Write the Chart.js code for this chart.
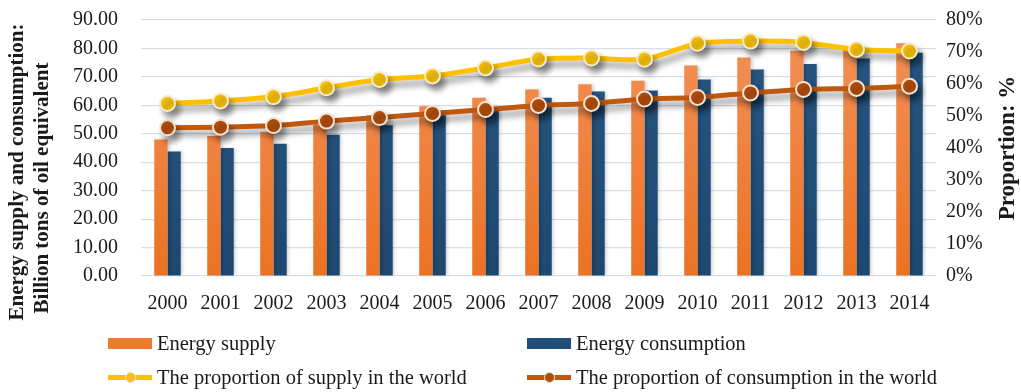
<!DOCTYPE html>
<html>
<head>
<meta charset="utf-8">
<script src="https://cdn.jsdelivr.net/npm/chart.js@4.4.1/dist/chart.umd.min.js"></script>
<style>
  html, body { margin: 0; padding: 0; background: #fff; }
  #wrap { position: relative; width: 1021px; height: 392px; overflow: hidden; }
  #energyChart { position: absolute; left: 0; top: 0; }
  .legend-item {
    position: absolute;
    display: flex;
    align-items: center;
    font-family: "Liberation Serif", "Times New Roman", serif;
    font-size: 20.5px;
    color: #1a1a1a;
    white-space: nowrap;
  }
  .swatch-box { width: 44px; height: 11px; margin-right: 5px; }
  .swatch-line { position: relative; width: 44px; height: 11px; margin-right: 5px; }
  .swatch-line .bar { position: absolute; left: 0; right: 0; top: 3px; height: 5px; }
  .swatch-line .dot { position: absolute; left: 17px; top: 0; width: 9px; height: 9px; border-radius: 50%; border: 1px solid #f3e6c8; }
</style>
</head>
<body>
<div id="wrap">
  <canvas id="energyChart" width="1021" height="392"></canvas>
  <div id="legend"></div>
</div>
<script>
const years = ["2000", "2001", "2002", "2003", "2004", "2005", "2006", "2007", "2008", "2009", "2010", "2011", "2012", "2013", "2014"];

// billion tons of oil equivalent
const energySupply = [48.0, 49.2, 50.6, 53.3, 56.5, 59.7, 62.7, 65.6, 67.4, 68.6, 74.0, 76.8, 79.2, 80.6, 81.8];
const energyConsumption = [43.8, 45.0, 46.5, 49.7, 53.0, 56.5, 59.0, 62.7, 64.9, 65.2, 69.1, 72.6, 74.5, 76.5, 78.5];

// share of world total, %
const supplyShare = [53.9, 54.7, 56.0, 58.8, 61.4, 62.5, 65.0, 67.8, 68.1, 67.7, 72.7, 73.4, 73.0, 70.8, 70.3];
const consumptionShare = [46.3, 46.5, 47.0, 48.4, 49.5, 50.8, 52.0, 53.3, 53.9, 55.3, 55.8, 57.2, 58.3, 58.6, 59.3];

const leftTicks = [0, 10, 20, 30, 40, 50, 60, 70, 80, 90];
const rightTicks = [0, 10, 20, 30, 40, 50, 60, 70, 80];

const FONT = "'Liberation Serif', 'Times New Roman', serif";
const colors = {
  supplyTop: "#F3925A",
  supplyBottom: "#EB7222",
  consTop: "#285682",
  consBottom: "#1D4870",
  supplyLine: "#FFC000",
  consLine: "#C0580F",
  consDot: "#B24E0D",
};

function verticalGradient(ctx, chartArea, top, bottom) {
  const g = ctx.createLinearGradient(0, chartArea.top, 0, chartArea.bottom);
  g.addColorStop(0, top);
  g.addColorStop(1, bottom);
  return g;
}

// soft drop shadow under the bars and the share lines
const shadowPlugin = {
  id: "shadow",
  beforeDatasetDraw(chart, args) {
    const ds = chart.data.datasets[args.index];
    const ctx = chart.ctx;
    ctx.save();
    if (ds.type === "line") {
      ctx.shadowColor = "rgba(0,0,0,0.4)";
      ctx.shadowBlur = 6;
      ctx.shadowOffsetX = 4;
      ctx.shadowOffsetY = 6;
    } else {
      ctx.shadowColor = "rgba(0,0,0,0.18)";
      ctx.shadowBlur = 3;
      ctx.shadowOffsetX = 2;
      ctx.shadowOffsetY = 0;
    }
  },
  afterDatasetDraw(chart) {
    chart.ctx.restore();
  },
};

// rotated axis titles
const axisTitles = {
  id: "axisTitles",
  afterDraw(chart) {
    const ctx = chart.ctx;
    ctx.save();
    ctx.fillStyle = "#1a1a1a";
    ctx.textAlign = "center";
    ctx.textBaseline = "middle";

    ctx.font = "bold 21px " + FONT;
    ctx.save();
    ctx.translate(18, 172);
    ctx.rotate(-Math.PI / 2);
    ctx.fillText("Energy supply and consumption:", 0, 0);
    ctx.restore();

    ctx.save();
    ctx.translate(43, 188);
    ctx.rotate(-Math.PI / 2);
    ctx.fillText("Billion tons of oil equivalent", 0, 0);
    ctx.restore();

    ctx.font = "bold 23px " + FONT;
    ctx.save();
    ctx.translate(1008, 148);
    ctx.rotate(-Math.PI / 2);
    ctx.fillText("Proportion: %", 0, 0);
    ctx.restore();

    ctx.restore();
  },
};

const chart = new Chart(document.getElementById("energyChart"), {
  data: {
    labels: years,
    datasets: [
      {
        type: "line",
        label: "The proportion of supply in the world",
        data: supplyShare,
        yAxisID: "y1",
        borderColor: colors.supplyLine,
        backgroundColor: colors.supplyLine,
        borderWidth: 5,
        tension: 0.25,
        pointRadius: 7.5,
        pointBorderWidth: 2,
        pointBackgroundColor: "#F7C10A",
        pointBorderColor: "#F6EBCB",
        order: 1,
      },
      {
        type: "line",
        label: "The proportion of consumption in the world",
        data: consumptionShare,
        yAxisID: "y1",
        borderColor: colors.consLine,
        backgroundColor: colors.consLine,
        borderWidth: 5,
        tension: 0.25,
        pointRadius: 7.5,
        pointBorderWidth: 2,
        pointBackgroundColor: colors.consDot,
        pointBorderColor: "#F3E3D2",
        order: 1,
      },
      {
        type: "bar",
        label: "Energy supply",
        data: energySupply,
        yAxisID: "y",
        backgroundColor: (c) => {
          const area = c.chart.chartArea;
          if (!area) return colors.supplyBottom;
          return verticalGradient(c.chart.ctx, area, colors.supplyTop, colors.supplyBottom);
        },
        legendColor: "#EE7A2E",
        categoryPercentage: 0.5,
        barPercentage: 1.0,
        order: 2,
      },
      {
        type: "bar",
        label: "Energy consumption",
        data: energyConsumption,
        yAxisID: "y",
        backgroundColor: (c) => {
          const area = c.chart.chartArea;
          if (!area) return colors.consBottom;
          return verticalGradient(c.chart.ctx, area, colors.consTop, colors.consBottom);
        },
        legendColor: "#1F4E79",
        categoryPercentage: 0.5,
        barPercentage: 1.0,
        order: 2,
      },
    ],
  },
  options: {
    responsive: false,
    animation: false,
    layout: { padding: { top: 20, right: 0, bottom: 0, left: 0 } },
    plugins: {
      legend: { display: false },
      tooltip: { enabled: false },
    },
    scales: {
      x: {
        grid: { display: false },
        border: { display: false },
        ticks: { font: { family: FONT, size: 20 }, color: "#1a1a1a", padding: 8, maxRotation: 0, autoSkip: false },
        afterFit: (s) => { s.height = 116; },
      },
      y: {
        position: "left",
        min: 0,
        max: 90,
        afterBuildTicks: (s) => { s.ticks = leftTicks.map((v) => ({ value: v })); },
        ticks: {
          font: { family: FONT, size: 20 },
          color: "#1a1a1a",
          padding: 0,
          autoSkip: false,
          callback: (v) => Number(v).toFixed(2),
        },
        grid: { color: "#D9DDE7", lineWidth: 1.2, drawTicks: true, tickLength: 23, tickColor: "rgba(0,0,0,0)" },
        border: { display: false },
        afterFit: (s) => { s.width = 141; },
      },
      y1: {
        position: "right",
        min: 0,
        max: 80,
        afterBuildTicks: (s) => { s.ticks = rightTicks.map((v) => ({ value: v })); },
        ticks: {
          font: { family: FONT, size: 20 },
          color: "#1a1a1a",
          padding: 0,
          autoSkip: false,
          callback: (v) => v + "%",
        },
        grid: { display: false, drawTicks: true, tickLength: 10, tickColor: "rgba(0,0,0,0)" },
        border: { display: false },
        afterFit: (s) => { s.width = 85; },
      },
    },
  },
  plugins: [shadowPlugin, axisTitles],
});

// two-column legend below the plot
function buildLegend(chart) {
  const slots = {
    "Energy supply": { left: 108, top: 332 },
    "Energy consumption": { left: 527, top: 332 },
    "The proportion of supply in the world": { left: 108, top: 366 },
    "The proportion of consumption in the world": { left: 527, top: 366 },
  };
  const box = document.getElementById("legend");
  chart.data.datasets.forEach((ds) => {
    const pos = slots[ds.label];
    const item = document.createElement("div");
    item.className = "legend-item";
    item.style.left = pos.left + "px";
    item.style.top = pos.top + "px";
    let sw;
    if (ds.type === "bar") {
      sw = document.createElement("span");
      sw.className = "swatch-box";
      sw.style.background = ds.legendColor;
    } else {
      sw = document.createElement("span");
      sw.className = "swatch-line";
      sw.innerHTML = `<span class="bar" style="background:${ds.borderColor}"></span><span class="dot" style="background:${ds.pointBackgroundColor}"></span>`;
    }
    const txt = document.createElement("span");
    txt.textContent = ds.label;
    item.appendChild(sw);
    item.appendChild(txt);
    box.appendChild(item);
  });
}

buildLegend(chart);
</script>
</body>
</html>
